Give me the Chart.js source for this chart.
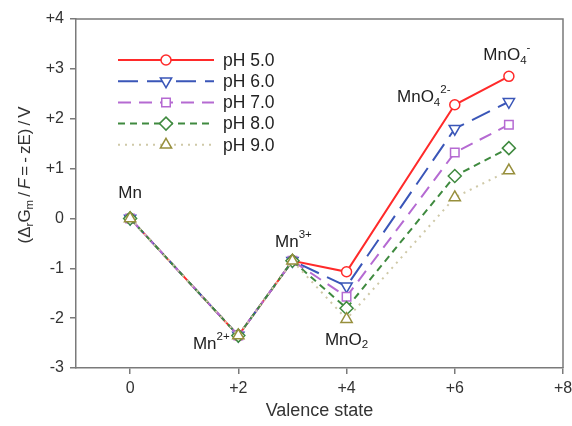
<!DOCTYPE html>
<html>
<head>
<meta charset="utf-8">
<script src="https://cdn.jsdelivr.net/npm/chart.js@4"></script>
<style>
  html, body { margin: 0; padding: 0; background: #fff; }
  #wrap { width: 572px; height: 426px; }
</style>
</head>
<body>
<div id="wrap"><canvas id="chart" width="572" height="426"></canvas></div>
<script>
// valence states and potentials
const valence = [0, 2, 3, 4, 6, 7];
const ph5 = [0, -2.35, -0.85, -1.07, 2.28, 2.85];
const ph6 = [0, -2.35, -0.85, -1.36, 1.80, 2.34];
const ph7 = [0, -2.35, -0.85, -1.57, 1.32, 1.88];
const ph8 = [0, -2.35, -0.85, -1.80, 0.85, 1.41];
const ph9 = [0, -2.35, -0.85, -2.02, 0.42, 0.96];
const seriesNames = ['pH 5.0', 'pH 6.0', 'pH 7.0', 'pH 8.0', 'pH 9.0'];
const xTicks = [0, 2, 4, 6, 8];
const xTickLabels = ['0', '+2', '+4', '+6', '+8'];
const yTicks = [-3, -2, -1, 0, 1, 2, 3, 4];
const yTickLabels = ['-3', '-2', '-1', '0', '+1', '+2', '+3', '+4'];

const FONT = 'Arial, "Liberation Sans", sans-serif';

const styles = [
  { color: '#ff2a2a', dash: [], style: 'circle', rot: 0, r: 5 },
  { color: '#3a56b8', dash: [20, 9], style: 'triangle', rot: 180, r: 6.5 },
  { color: '#b56ad2', dash: [13, 8], style: 'rect', rot: 0, r: 6 },
  { color: '#3f8a3f', dash: [7, 5], style: 'rectRot', rot: 0, r: 6.5 },
  { color: '#978f3c', line: '#cfc9a8', dash: [2, 5], style: 'triangle', rot: 0, r: 6.5 }
];
const allSeries = [ph5, ph6, ph7, ph8, ph9];

const datasets = allSeries.map((vals, i) => ({
  label: seriesNames[i],
  data: valence.map((v, j) => ({ x: v, y: vals[j] })),
  borderColor: styles[i].line || styles[i].color,
  borderWidth: 2,
  borderDash: styles[i].dash,
  pointStyle: styles[i].style,
  rotation: styles[i].rot,
  pointRadius: styles[i].r,
  pointBorderColor: styles[i].color,
  pointBackgroundColor: '#fff',
  pointBorderWidth: 1.5,
  order: 5 - i,
  tension: 0
}));

// draw text runs with sub/superscripts and italics; {gap:n} adds n px
function richText(ctx, x, y, parts, size, align) {
  const fontOf = p => (p.it ? 'italic ' : '') + (p.sub || p.sup ? size * 0.68 : size) + 'px ' + FONT;
  const widths = parts.map(p => {
    if (p.gap) return p.gap;
    ctx.font = fontOf(p);
    return ctx.measureText(p.t).width;
  });
  const total = widths.reduce((a, b) => a + b, 0);
  let cx = align === 'center' ? x - total / 2 : (align === 'right' ? x - total : x);
  ctx.textAlign = 'left';
  parts.forEach((p, k) => {
    if (!p.gap) {
      ctx.font = fontOf(p);
      let dy = 0;
      if (p.sub) dy = size * 0.3;
      if (p.sup) dy = -size * 0.45;
      ctx.fillText(p.t, cx, y + dy);
    }
    cx += widths[k];
  });
}

const annotations = [
  { x: 0, y: ph5[0], dx: 0, dy: -25, parts: [{ t: 'Mn' }] },
  { x: 2, y: ph5[1], dx: -27, dy: 9, parts: [{ t: 'Mn' }, { t: '2+', sup: true }] },
  { x: 3, y: ph5[2], dx: 1, dy: -18, parts: [{ t: 'Mn' }, { t: '3+', sup: true }] },
  { x: 4, y: ph9[3], dx: 0, dy: 21, parts: [{ t: 'MnO' }, { t: '2', sub: true }] },
  { x: 6, y: ph5[4], dx: -31, dy: -7, parts: [{ t: 'MnO' }, { t: '4', sub: true }, { t: '2-', sup: true }] },
  { x: 7, y: ph5[5], dx: -2, dy: -21, parts: [{ t: 'MnO' }, { t: '4', sub: true }, { t: '-', sup: true }] }
];

const extras = {
  id: 'extras',
  afterDraw(chart) {
    const ctx = chart.ctx;
    const a = chart.chartArea;
    const xs = chart.scales.x, ys = chart.scales.y;
    ctx.save();
    // frame top/right
    ctx.strokeStyle = '#7a7a7a';
    ctx.lineWidth = 1.5;
    ctx.beginPath();
    ctx.moveTo(a.left, a.top);
    ctx.lineTo(a.right, a.top);
    ctx.lineTo(a.right, a.bottom);
    ctx.stroke();

    // annotations
    ctx.fillStyle = '#222';
    ctx.textBaseline = 'middle';
    annotations.forEach(n => {
      richText(ctx, xs.getPixelForValue(n.x) + n.dx, ys.getPixelForValue(n.y) + n.dy, n.parts, 17, 'center');
    });

    // legend
    const lx0 = 118, lx1 = 214, ly = 60, step = 21.2;
    chart.data.datasets.forEach((ds, i) => {
      const y = ly + i * step;
      const st = styles[i];
      ctx.strokeStyle = st.line || st.color;
      ctx.lineWidth = 2;
      ctx.setLineDash(st.dash);
      ctx.beginPath();
      ctx.moveTo(lx0, y);
      ctx.lineTo(lx1, y);
      ctx.stroke();
      ctx.setLineDash([]);
      ctx.strokeStyle = st.color;
      ctx.fillStyle = '#fff';
      ctx.lineWidth = 1.5;
      Chart.helpers.drawPoint(ctx, { pointStyle: st.style, radius: st.r, rotation: st.rot, borderWidth: 1.5 }, (lx0 + lx1) / 2, y);
      ctx.fillStyle = '#222';
      ctx.font = '17.5px ' + FONT;
      ctx.textAlign = 'left';
      ctx.fillText(ds.label, 223, y + 1);
    });

    // y axis title
    ctx.translate(25, 175);
    ctx.rotate(-Math.PI / 2);
    ctx.fillStyle = '#333';
    richText(ctx, 0, 0, [
      { t: '(\u0394' }, { t: 'r', sub: true }, { t: 'G' }, { t: 'm', sub: true },
      { gap: 3 }, { t: '/' }, { gap: 3 }, { t: 'F', it: true }, { gap: 3 }, { t: '=' }, { gap: 3 },
      { t: '-' }, { gap: 3 }, { t: 'zE)' }, { gap: 3 }, { t: '/' }, { gap: 3 }, { t: 'V' }
    ], 17, 'center');
    ctx.restore();
  }
};

new Chart(document.getElementById('chart'), {
  type: 'line',
  data: { datasets: datasets },
  options: {
    responsive: false,
    animation: false,
    layout: { padding: { left: 0, right: 9, top: 19, bottom: 0 } },
    plugins: { legend: { display: false }, tooltip: { enabled: false } },
    scales: {
      x: {
        type: 'linear',
        min: -1, max: 8,
        afterBuildTicks: s => { s.ticks = xTicks.map(v => ({ value: v })); },
        afterFit: s => { s.height = 58; s.paddingRight = 0; s.paddingLeft = 0; },
        ticks: {
          color: '#333', font: { family: FONT, size: 16 }, padding: 5,
          callback: (v) => xTickLabels[xTicks.indexOf(v)]
        },
        grid: { drawOnChartArea: false, tickLength: 6, color: '#7a7a7a', lineWidth: 1.5 },
        border: { color: '#7a7a7a', width: 1.5 },
        title: { display: true, text: 'Valence state', color: '#333', font: { family: FONT, size: 18 }, padding: { top: 0 } }
      },
      y: {
        min: -3, max: 4,
        afterBuildTicks: s => { s.ticks = yTicks.map(v => ({ value: v })); },
        afterFit: s => { s.width = 76; s.paddingTop = 0; s.paddingBottom = 0; },
        ticks: {
          color: '#333', font: { family: FONT, size: 16 }, padding: 6,
          callback: (v) => yTickLabels[yTicks.indexOf(v)]
        },
        grid: { drawOnChartArea: false, tickLength: 6, color: '#7a7a7a', lineWidth: 1.5 },
        border: { color: '#7a7a7a', width: 1.5 }
      }
    }
  },
  plugins: [extras]
});
</script>
</body>
</html>
